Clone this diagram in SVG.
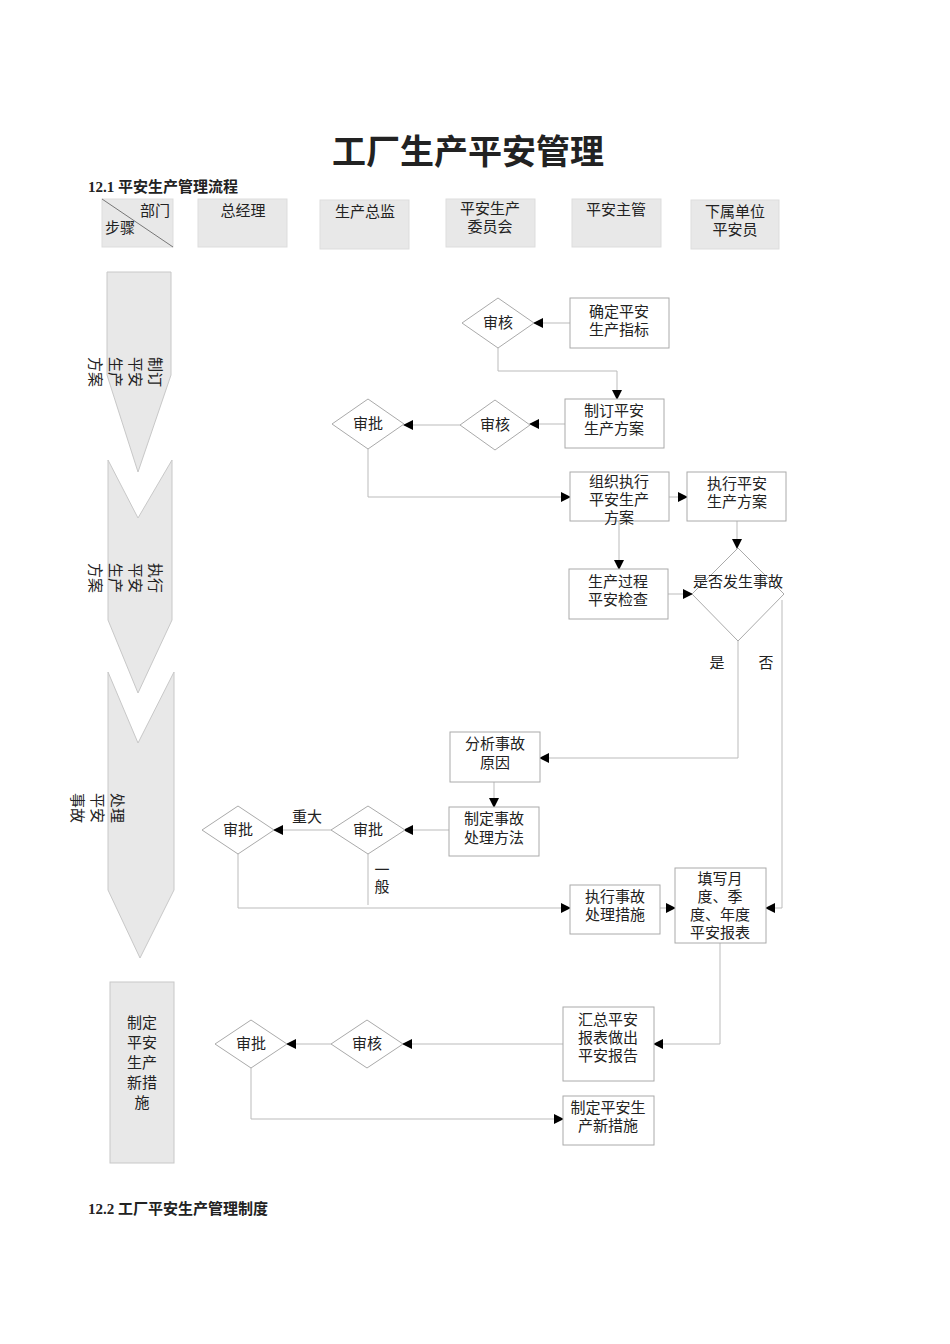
<svg xmlns="http://www.w3.org/2000/svg" width="950" height="1344" viewBox="0 0 950 1344">
<defs>
<marker id="a" markerWidth="10" markerHeight="10" refX="9" refY="5" orient="auto" markerUnits="userSpaceOnUse"><path d="M0,0 L10,5 L0,10 Z" fill="#000"/></marker>
<style>
text{font-family:"Liberation Serif","Noto Sans CJK SC",serif;font-size:15px;fill:#222;text-anchor:middle}
.h{fill:#e8e8e8;stroke:#ddd}
.b{fill:#fff;stroke:#aaa}
.c{fill:none;stroke:#bbb;stroke-width:1;marker-end:url(#a)}
.l{fill:none;stroke:#bbb;stroke-width:1}
.s{fill:#e8e8e8;stroke:#c8c8c8}
.t{font-weight:bold;text-anchor:start}
</style>
</defs>
<rect width="950" height="1344" fill="#fff"/>
<text x="468" y="164" style="font-size:34px;font-weight:bold">工厂生产平安管理</text>
<text class="t" x="88" y="192">12.1 平安生产管理流程</text>
<text class="t" x="88" y="1214">12.2 工厂平安生产管理制度</text>

<g id="headers">
<rect class="h" x="102" y="199" width="71" height="48"/><line x1="102" y1="199" x2="173" y2="247" stroke="#777"/>
<text x="155" y="216">部门</text><text x="120" y="233">步骤</text>
<rect class="h" x="198" y="199" width="89" height="48"/><text x="243" y="216">总经理</text>
<rect class="h" x="320" y="200" width="89" height="49"/><text x="365" y="217">生产总监</text>
<rect class="h" x="446" y="199" width="89" height="48"/><text x="490" y="214">平安生产</text><text x="490" y="232">委员会</text>
<rect class="h" x="572" y="199" width="89" height="48"/><text x="616" y="215">平安主管</text>
<rect class="h" x="691" y="200" width="88" height="49"/><text x="735" y="217">下属单位</text><text x="735" y="235">平安员</text>
</g>

<g id="stages">
<path class="s" d="M107,272 H171 V375 L138,472 L107,375 Z"/>
<g transform="translate(125,372) rotate(90)"><text x="0" y="-25">制订</text><text x="0" y="-5">平安</text><text x="0" y="15">生产</text><text x="0" y="35">方案</text></g>
<path class="s" d="M108,460 L138,518 L172,460 V620 L138,693 L108,620 Z"/>
<g transform="translate(125,578) rotate(90)"><text x="0" y="-25">执行</text><text x="0" y="-5">平安</text><text x="0" y="15">生产</text><text x="0" y="35">方案</text></g>
<path class="s" d="M108,672 L138,743 L174,672 V890 L140,958 L108,890 Z"/>
<g transform="translate(97,808) rotate(90)"><text x="0" y="-15">处理</text><text x="0" y="5">平安</text><text x="0" y="25">事故</text></g>
<rect class="s" x="110" y="982" width="64" height="181"/>
<text x="142" y="1028">制定</text><text x="142" y="1048">平安</text><text x="142" y="1068">生产</text><text x="142" y="1088">新措</text><text x="142" y="1108">施</text>
</g>

<g id="connectors">
<path class="c" d="M570,323 H534"/>
<path class="c" d="M498,348 V371 H617 V399"/>
<path class="c" d="M565,424 H530"/>
<path class="c" d="M460,425 H404"/>
<path class="c" d="M368,449 V497 H570"/>
<path class="c" d="M669,497 H687"/>
<path class="c" d="M619,521 V569"/>
<path class="c" d="M737,521 V548"/>
<path class="c" d="M668,594 H692"/>
<path class="c" d="M738,641 V758 H540"/>
<path class="c" d="M782,600 V908 H766"/>
<path class="c" d="M494,782 V807"/>
<path class="c" d="M449,830 H404"/>
<path class="c" d="M331,830 H274"/>
<path class="l" d="M368,854 V905"/>
<path class="c" d="M238,854 V908 H570"/>
<path class="c" d="M660,908 H675"/>
<path class="c" d="M720,943 V1044 H654"/>
<path class="c" d="M563,1044 H403"/>
<path class="c" d="M331,1044 H287"/>
<path class="c" d="M251,1068 V1119 H563"/>
<text x="717" y="668">是</text><text x="766" y="668">否</text>
<text x="307" y="822">重大</text>
<text x="382" y="875">一</text><text x="382" y="892">般</text>
</g>

<g id="n1"><rect class="b" x="570" y="298" width="99" height="50"/><text x="619" y="317">确定平安</text><text x="619" y="335">生产指标</text></g>
<g id="n2"><path class="b" d="M498,298 L534,323 L498,348 L462,323 Z"/><text x="498" y="328">审核</text></g>
<g id="n3"><rect class="b" x="565" y="399" width="99" height="49"/><text x="614" y="416">制订平安</text><text x="614" y="434">生产方案</text></g>
<g id="n4"><path class="b" d="M495,400 L530,425 L495,450 L460,425 Z"/><text x="495" y="430">审核</text></g>
<g id="n5"><path class="b" d="M368,399 L404,424 L368,449 L332,424 Z"/><text x="368" y="429">审批</text></g>
<g id="n6"><rect class="b" x="570" y="472" width="99" height="49"/><text x="619" y="487">组织执行</text><text x="619" y="505">平安生产</text><text x="619" y="523">方案</text></g>
<g id="n7"><rect class="b" x="687" y="472" width="99" height="49"/><text x="737" y="489">执行平安</text><text x="737" y="507">生产方案</text></g>
<g id="n8"><rect class="b" x="569" y="569" width="99" height="50"/><text x="618" y="587">生产过程</text><text x="618" y="605">平安检查</text></g>
<g id="n9"><path class="b" d="M738,548 L784,594 L738,641 L692,594 Z"/><text x="738" y="587">是否发生事故</text></g>
<g id="n10"><rect class="b" x="450" y="732" width="90" height="50"/><text x="495" y="749">分析事故</text><text x="495" y="768">原因</text></g>
<g id="n11"><rect class="b" x="449" y="807" width="90" height="49"/><text x="494" y="824">制定事故</text><text x="494" y="843">处理方法</text></g>
<g id="n12"><path class="b" d="M368,806 L405,830 L368,854 L331,830 Z"/><text x="368" y="835">审批</text></g>
<g id="n13"><path class="b" d="M238,806 L274,830 L238,854 L202,830 Z"/><text x="238" y="835">审批</text></g>
<g id="n14"><rect class="b" x="570" y="885" width="90" height="49"/><text x="615" y="902">执行事故</text><text x="615" y="920">处理措施</text></g>
<g id="n15"><rect class="b" x="675" y="868" width="91" height="75"/><text x="720" y="884">填写月</text><text x="720" y="902">度、季</text><text x="720" y="920">度、年度</text><text x="720" y="938">平安报表</text></g>
<g id="n16"><rect class="b" x="563" y="1007" width="91" height="74"/><text x="608" y="1025">汇总平安</text><text x="608" y="1043">报表做出</text><text x="608" y="1061">平安报告</text></g>
<g id="n17"><path class="b" d="M367,1020 L403,1044 L367,1068 L331,1044 Z"/><text x="367" y="1049">审核</text></g>
<g id="n18"><path class="b" d="M251,1020 L287,1044 L251,1068 L215,1044 Z"/><text x="251" y="1049">审批</text></g>
<g id="n19"><rect class="b" x="563" y="1096" width="91" height="49"/><text x="608" y="1113">制定平安生</text><text x="608" y="1131">产新措施</text></g>
</svg>
